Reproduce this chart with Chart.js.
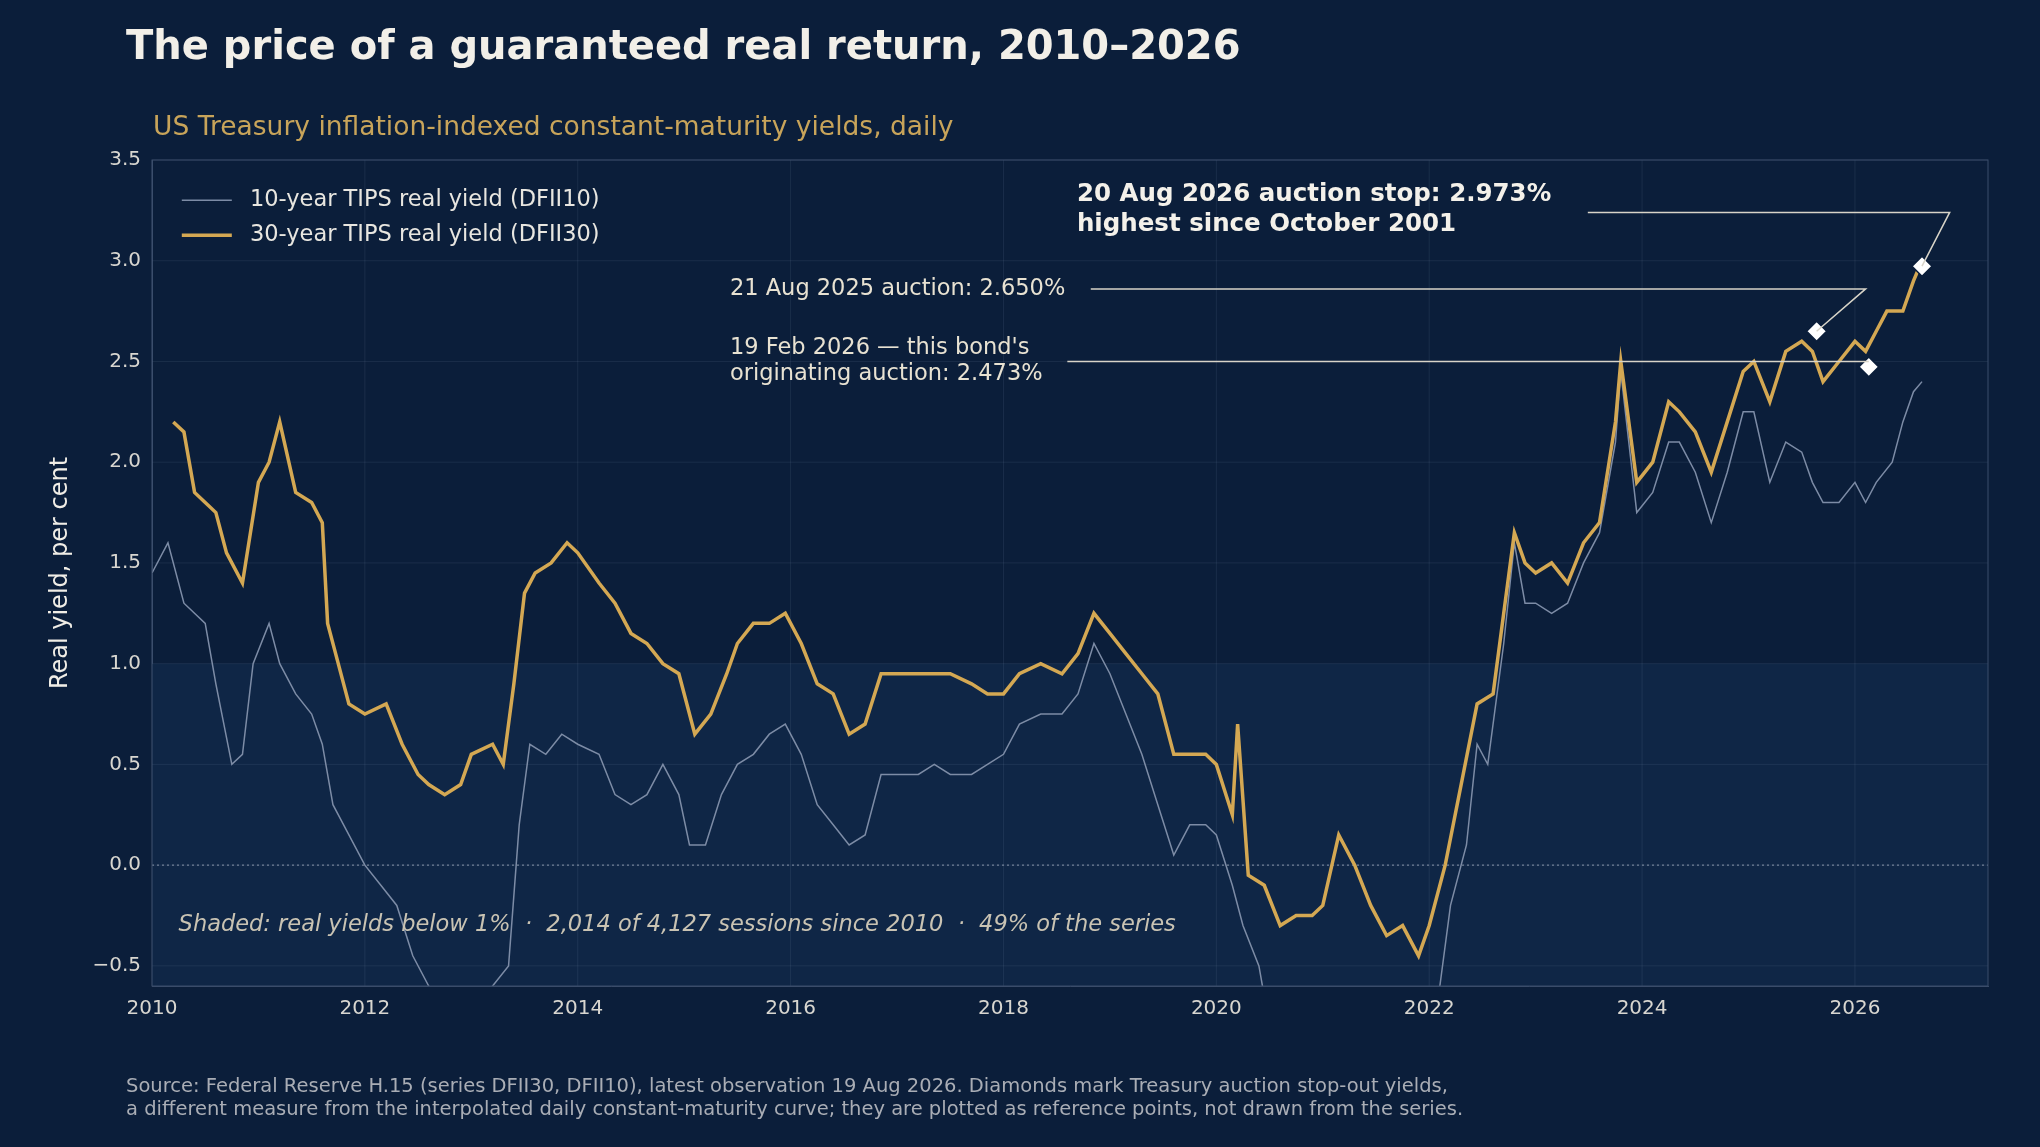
<!DOCTYPE html>
<html><head><meta charset="utf-8">
<script src="https://cdn.jsdelivr.net/npm/chart.js@4"></script>
<style>
html,body{margin:0;padding:0;background:#0b1e3a;width:2040px;height:1147px;overflow:hidden;font-family:"DejaVu Sans",sans-serif}
#t{position:absolute;left:126px;top:22px;font-size:40px;font-weight:bold;color:#f2efe8}
#s{position:absolute;left:153px;top:110px;font-size:26.5px;color:#c8a45a}
#f{position:absolute;left:126px;top:1074px;font-size:19.5px;color:#a9adb5;line-height:23px}
#w{position:absolute;left:0;top:0;width:2040px;height:1147px}
</style></head><body>
<div id="w"><canvas id="c"></canvas></div>
<div id="t">The price of a guaranteed real return, 2010–2026</div>
<div id="s">US Treasury inflation-indexed constant-maturity yields, daily</div>
<div id="f">Source: Federal Reserve H.15 (series DFII30, DFII10), latest observation 19 Aug 2026. Diamonds mark Treasury auction stop-out yields,<br>a different measure from the interpolated daily constant-maturity curve; they are plotted as reference points, not drawn from the series.</div>
<script>
const years30=[2010.2,2010.3,2010.4,2010.5,2010.6,2010.7,2010.85,2011.0,2011.1,2011.2,2011.35,2011.5,2011.6,2011.65,2011.75,2011.85,2012.0,2012.2,2012.35,2012.5,2012.6,2012.75,2012.9,2013.0,2013.2,2013.3,2013.4,2013.5,2013.6,2013.75,2013.9,2014.0,2014.2,2014.35,2014.5,2014.65,2014.8,2014.95,2015.1,2015.25,2015.4,2015.5,2015.65,2015.8,2015.95,2016.1,2016.25,2016.4,2016.55,2016.7,2016.85,2017.0,2017.2,2017.35,2017.5,2017.7,2017.85,2018.0,2018.15,2018.35,2018.55,2018.7,2018.85,2019.0,2019.15,2019.3,2019.45,2019.6,2019.75,2019.9,2020.0,2020.15,2020.2,2020.3,2020.45,2020.6,2020.75,2020.9,2021.0,2021.15,2021.3,2021.45,2021.6,2021.75,2021.9,2022.0,2022.15,2022.3,2022.45,2022.6,2022.7,2022.8,2022.9,2023.0,2023.15,2023.3,2023.45,2023.6,2023.75,2023.8,2023.95,2024.1,2024.25,2024.35,2024.5,2024.65,2024.8,2024.95,2025.05,2025.2,2025.35,2025.5,2025.6,2025.7,2025.85,2026.0,2026.1,2026.2,2026.3,2026.45,2026.55,2026.63];
const yield30=[2.2,2.15,1.85,1.8,1.75,1.55,1.4,1.9,2.0,2.2,1.85,1.8,1.7,1.2,1.0,0.8,0.75,0.8,0.6,0.45,0.4,0.35,0.4,0.55,0.6,0.5,0.9,1.35,1.45,1.5,1.6,1.55,1.4,1.3,1.15,1.1,1.0,0.95,0.65,0.75,0.95,1.1,1.2,1.2,1.25,1.1,0.9,0.85,0.65,0.7,0.95,0.95,0.95,0.95,0.95,0.9,0.85,0.85,0.95,1.0,0.95,1.05,1.25,1.15,1.05,0.95,0.85,0.55,0.55,0.55,0.5,0.25,0.7,-0.05,-0.1,-0.3,-0.25,-0.25,-0.2,0.15,0.0,-0.2,-0.35,-0.3,-0.45,-0.3,0.0,0.4,0.8,0.85,1.25,1.65,1.5,1.45,1.5,1.4,1.6,1.7,2.2,2.5,1.9,2.0,2.3,2.25,2.15,1.95,2.2,2.45,2.5,2.3,2.55,2.6,2.55,2.4,2.5,2.6,2.55,2.65,2.75,2.75,2.9,3.0];
const years10=[2010.0,2010.15,2010.3,2010.5,2010.6,2010.75,2010.85,2010.95,2011.1,2011.2,2011.35,2011.5,2011.6,2011.7,2011.85,2012.0,2012.15,2012.3,2012.45,2012.6,2012.8,2013.0,2013.2,2013.35,2013.45,2013.55,2013.7,2013.85,2014.0,2014.2,2014.35,2014.5,2014.65,2014.8,2014.95,2015.05,2015.2,2015.35,2015.5,2015.65,2015.8,2015.95,2016.1,2016.25,2016.4,2016.55,2016.7,2016.85,2017.0,2017.2,2017.35,2017.5,2017.7,2017.85,2018.0,2018.15,2018.35,2018.55,2018.7,2018.85,2019.0,2019.15,2019.3,2019.45,2019.6,2019.75,2019.9,2020.0,2020.15,2020.25,2020.4,2020.5,2020.7,2021.0,2021.3,2021.6,2021.9,2022.1,2022.2,2022.35,2022.45,2022.55,2022.7,2022.8,2022.9,2023.0,2023.15,2023.3,2023.45,2023.6,2023.75,2023.8,2023.95,2024.1,2024.25,2024.35,2024.5,2024.65,2024.8,2024.95,2025.05,2025.2,2025.35,2025.5,2025.6,2025.7,2025.85,2026.0,2026.1,2026.2,2026.35,2026.45,2026.55,2026.63];
const yield10=[1.45,1.6,1.3,1.2,0.9,0.5,0.55,1.0,1.2,1.0,0.85,0.75,0.6,0.3,0.15,0.0,-0.1,-0.2,-0.45,-0.6,-0.75,-0.7,-0.6,-0.5,0.2,0.6,0.55,0.65,0.6,0.55,0.35,0.3,0.35,0.5,0.35,0.1,0.1,0.35,0.5,0.55,0.65,0.7,0.55,0.3,0.2,0.1,0.15,0.45,0.45,0.45,0.5,0.45,0.45,0.5,0.55,0.7,0.75,0.75,0.85,1.1,0.95,0.75,0.55,0.3,0.05,0.2,0.2,0.15,-0.1,-0.3,-0.5,-0.8,-1.0,-0.95,-0.7,-1.1,-1.0,-0.6,-0.2,0.1,0.6,0.5,1.1,1.6,1.3,1.3,1.25,1.3,1.5,1.65,2.1,2.45,1.75,1.85,2.1,2.1,1.95,1.7,1.95,2.25,2.25,1.9,2.1,2.05,1.9,1.8,1.8,1.9,1.8,1.9,2.0,2.2,2.35,2.4];
const auctionDates=[2025.64,2026.13,2026.63];
const auctionYields=[2.65,2.473,2.973];
const xTicks=[2010,2012,2014,2016,2018,2020,2022,2024,2026];
const seriesNames=["10-year TIPS real yield (DFII10)","30-year TIPS real yield (DFII30)"];

const pts=(xs,ys)=>xs.map((x,i)=>({x,y:ys[i]}));
const F='"DejaVu Sans", sans-serif';
const deco={id:'deco',
 beforeDatasetsDraw(ch){const {ctx,chartArea:a,scales:{x,y}}=ch;ctx.save();
  const y1=y.getPixelForValue(1.0);ctx.fillStyle='#0f2646';ctx.fillRect(a.left,y1,a.right-a.left,a.bottom-y1);
  ctx.strokeStyle='rgba(120,140,170,0.14)';ctx.lineWidth=1;
  for(let v=-0.5;v<=3.5;v+=0.5){const p=y.getPixelForValue(v);ctx.beginPath();ctx.moveTo(a.left,p);ctx.lineTo(a.right,p);ctx.stroke();}
  xTicks.forEach(v=>{const p=x.getPixelForValue(v);ctx.beginPath();ctx.moveTo(p,a.top);ctx.lineTo(p,a.bottom);ctx.stroke();});
  const y0=y.getPixelForValue(0);ctx.strokeStyle='#8a97aa';ctx.setLineDash([2,3]);ctx.beginPath();ctx.moveTo(a.left,y0);ctx.lineTo(a.right,y0);ctx.stroke();ctx.setLineDash([]);
  ctx.restore();},
 afterDatasetsDraw(ch){const {ctx,scales:{x,y}}=ch;const X=v=>x.getPixelForValue(v),Y=v=>y.getPixelForValue(v);ctx.save();
  ctx.strokeStyle='#7d8ca6';ctx.lineWidth=1.5;ctx.beginPath();ctx.moveTo(X(2010.28),Y(3.30));ctx.lineTo(X(2010.75),Y(3.30));ctx.stroke();
  ctx.strokeStyle='#d4a853';ctx.lineWidth=3.5;ctx.beginPath();ctx.moveTo(X(2010.28),Y(3.126));ctx.lineTo(X(2010.75),Y(3.126));ctx.stroke();
  ctx.fillStyle='#e8e6e0';ctx.font='22.5px '+F;ctx.textBaseline='middle';
  ctx.fillText(seriesNames[0],X(2010.92),Y(3.30));ctx.fillText(seriesNames[1],X(2010.92),Y(3.126));
  ctx.strokeStyle='#d8d4c8';ctx.lineWidth=1.5;
  ctx.beginPath();ctx.moveTo(X(2023.49),Y(3.24));ctx.lineTo(X(2026.89),Y(3.24));ctx.lineTo(X(auctionDates[2]),Y(auctionYields[2]));ctx.stroke();
  ctx.beginPath();ctx.moveTo(X(2018.82),Y(2.86));ctx.lineTo(X(2026.10),Y(2.86));ctx.lineTo(X(auctionDates[0]),Y(auctionYields[0]));ctx.stroke();
  ctx.beginPath();ctx.moveTo(X(2018.6),Y(2.5));ctx.lineTo(X(auctionDates[1]),Y(2.5));ctx.stroke();
  ctx.fillStyle='#f4f1ea';ctx.font='bold 24.5px '+F;
  ctx.fillText('20 Aug 2026 auction stop: 2.973%',X(2018.69),Y(3.326));
  ctx.fillText('highest since October 2001',X(2018.69),Y(3.177));
  ctx.fillStyle='#e8e2d2';ctx.font='22.5px '+F;
  ctx.fillText('21 Aug 2025 auction: 2.650%',X(2015.43),Y(2.86));
  ctx.fillText("19 Feb 2026 — this bond's",X(2015.43),Y(2.565));
  ctx.fillText('originating auction: 2.473%',X(2015.43),Y(2.435));
  ctx.fillStyle='#c9c3b3';ctx.font='italic 22.5px '+F;
  ctx.fillText('Shaded: real yields below 1%  ·  2,014 of 4,127 sessions since 2010  ·  49% of the series',X(2010.25),Y(-0.3));
  ctx.restore();}
};
new Chart(document.getElementById('c'),{
 data:{datasets:[
  {type:'line',data:pts(years10,yield10),borderColor:'#7d8ca6',borderWidth:1.5,pointRadius:0,tension:0,order:3},
  {type:'line',data:pts(years30,yield30),borderColor:'#d4a853',borderWidth:3.5,pointRadius:0,tension:0,order:2},
  {type:'scatter',data:pts(auctionDates,auctionYields),pointStyle:'rectRot',pointRadius:10,backgroundColor:'#ffffff',borderColor:'#0b1e3a',borderWidth:1.5,order:1}
 ]},
 options:{responsive:true,maintainAspectRatio:false,animation:false,
  layout:{padding:{left:42,right:52,top:160,bottom:121}},
  plugins:{legend:{display:false},tooltip:{enabled:false}},
  scales:{
   x:{type:'linear',min:2010,max:2027.25,afterFit:s=>{s.height=40},
    afterBuildTicks:s=>{s.ticks=xTicks.map(v=>({value:v}))},
    ticks:{color:'#d8d6d0',font:{family:F,size:20},callback:v=>String(v),maxRotation:0},
    grid:{display:false},border:{color:'#3a4d6a'}},
   y:{min:-0.6,max:3.5,afterFit:s=>{s.width=110},
    afterBuildTicks:s=>{s.ticks=[-0.5,0,0.5,1,1.5,2,2.5,3,3.5].map(v=>({value:v}))},
    ticks:{color:'#d8d6d0',font:{family:F,size:20},callback:v=>(v<0?'−':'')+Math.abs(v).toFixed(1)},
    title:{display:true,text:'Real yield, per cent',color:'#f0ede6',font:{family:F,size:24}},
    grid:{display:false},border:{color:'#3a4d6a'}}
  }},
 plugins:[deco,{id:'frame',afterDraw(ch){const {ctx,chartArea:a}=ch;ctx.save();ctx.strokeStyle='#3a4d6a';ctx.lineWidth=1;ctx.strokeRect(a.left,a.top,a.right-a.left,a.bottom-a.top);ctx.restore();}}]
});
</script></body></html>
